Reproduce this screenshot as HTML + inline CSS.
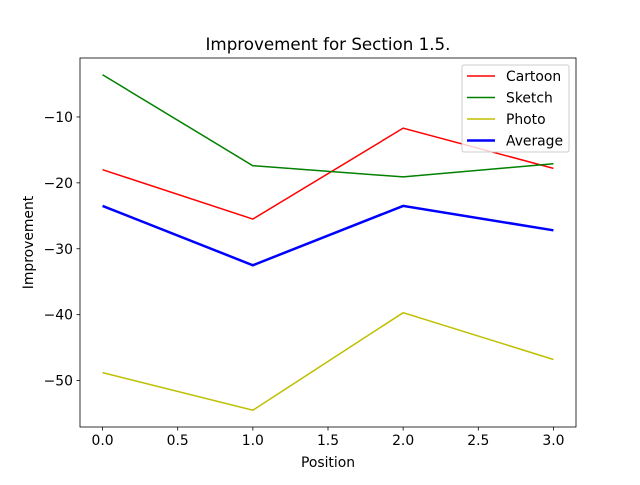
<!DOCTYPE html>
<html><head><meta charset="utf-8"><style>
body{margin:0;background:#fff}
svg{font-family:"DejaVu Sans","Liberation Sans",sans-serif}
</style></head><body>
<svg id="chart" width="640" height="480" xmlns="http://www.w3.org/2000/svg">
<rect width="640" height="480" fill="#fff"/>
<g id="plot"></g>
</svg>
<script>
const positions = [0, 1, 2, 3];
const cartoon = [-18.0, -25.5, -11.7, -17.8];
const sketch = [-3.6, -17.4, -19.1, -17.1];
const photo = [-48.8, -54.5, -39.7, -46.8];
const average = [-23.5, -32.5, -23.5, -27.2];
const xTicks = [0, 0.5, 1, 1.5, 2, 2.5, 3];
const xTickLabels = ["0.0", "0.5", "1.0", "1.5", "2.0", "2.5", "3.0"];
const yTicks = [-50, -40, -30, -20, -10];
const yTickLabels = ["\u221250", "\u221240", "\u221230", "\u221220", "\u221210"];

const L = 80, R = 576, T = 58, B = 427;
const allY = cartoon.concat(sketch, photo, average);
const ymin0 = Math.min(...allY), ymax0 = Math.max(...allY);
const ypad = (ymax0 - ymin0) * 0.05;
const ymin = ymin0 - ypad, ymax = ymax0 + ypad;
const xmin0 = Math.min(...positions), xmax0 = Math.max(...positions);
const xpad = (xmax0 - xmin0) * 0.05;
const xmin = xmin0 - xpad, xmax = xmax0 + xpad;
const sx = v => L + (v - xmin) / (xmax - xmin) * (R - L);
const sy = v => B - (v - ymin) / (ymax - ymin) * (B - T);

const NS = "http://www.w3.org/2000/svg";
const g = document.getElementById("plot");
function mk(tag, attrs, parent) {
  const e = document.createElementNS(NS, tag);
  for (const k in attrs) e.setAttribute(k, attrs[k]);
  (parent || g).appendChild(e);
  return e;
}

const series = [
  {name: "Cartoon", data: cartoon, color: "#ff0000", w: 1.5},
  {name: "Sketch", data: sketch, color: "#008000", w: 1.5},
  {name: "Photo", data: photo, color: "#bfbf00", w: 1.5},
  {name: "Average", data: average, color: "#0000ff", w: 2.5}
];
series.forEach(s => {
  const pts = s.data.map((v, i) => sx(positions[i]) + "," + sy(v)).join(" ");
  const pl = mk("polyline", {points: pts, fill: "none", stroke: s.color, "stroke-width": s.w});
  
  
});

const frame = mk("rect", {x: L, y: T, width: R - L, height: B - T, fill: "none", stroke: "#000", "stroke-width": 0.8});



xTicks.forEach((t, i) => {
  const x = sx(t);
  mk("line", {x1: x, x2: x, y1: B, y2: B + 3.5, stroke: "#000", "stroke-width": 0.8});
  const tx = mk("text", {x: x, y: B + 18, "text-anchor": "middle", "font-size": 13.9});
  tx.textContent = xTickLabels[i];
  
  
});
yTicks.forEach((t, i) => {
  const y = sy(t);
  mk("line", {x1: L - 3.5, x2: L, y1: y, y2: y, stroke: "#000", "stroke-width": 0.8});
  const tx = mk("text", {x: L - 7, y: y + 5, "text-anchor": "end", "font-size": 13.9});
  tx.textContent = yTickLabels[i];
  
  
});

const title = mk("text", {x: (L + R) / 2, y: 50, "text-anchor": "middle", "font-size": 16.7});
title.textContent = "Improvement for Section 1.5.";


const xl = mk("text", {x: (L + R) / 2, y: 467, "text-anchor": "middle", "font-size": 13.9});
xl.textContent = "Position";


const yl = mk("text", {x: 0, y: 0, "text-anchor": "middle", "font-size": 13.9, transform: "translate(33," + ((T + B) / 2) + ") rotate(-90)"});
yl.textContent = "Improvement";



const lg = mk("g", {});


mk("rect", {x: 462, y: 65, width: 107, height: 87, rx: 2, fill: "#fff", "fill-opacity": 0.8, stroke: "#ccc", "stroke-width": 1}, lg);
series.forEach((s, i) => {
  const y = 76 + i * 21.5;
  const le = mk("g", {}, lg);
  
  
  mk("line", {x1: 467, x2: 495, y1: y, y2: y, stroke: s.color, "stroke-width": s.w}, le);
  const t = mk("text", {x: 506, y: y + 5, "font-size": 13.9}, le);
  t.textContent = s.name;
});
</script>
</body></html>
